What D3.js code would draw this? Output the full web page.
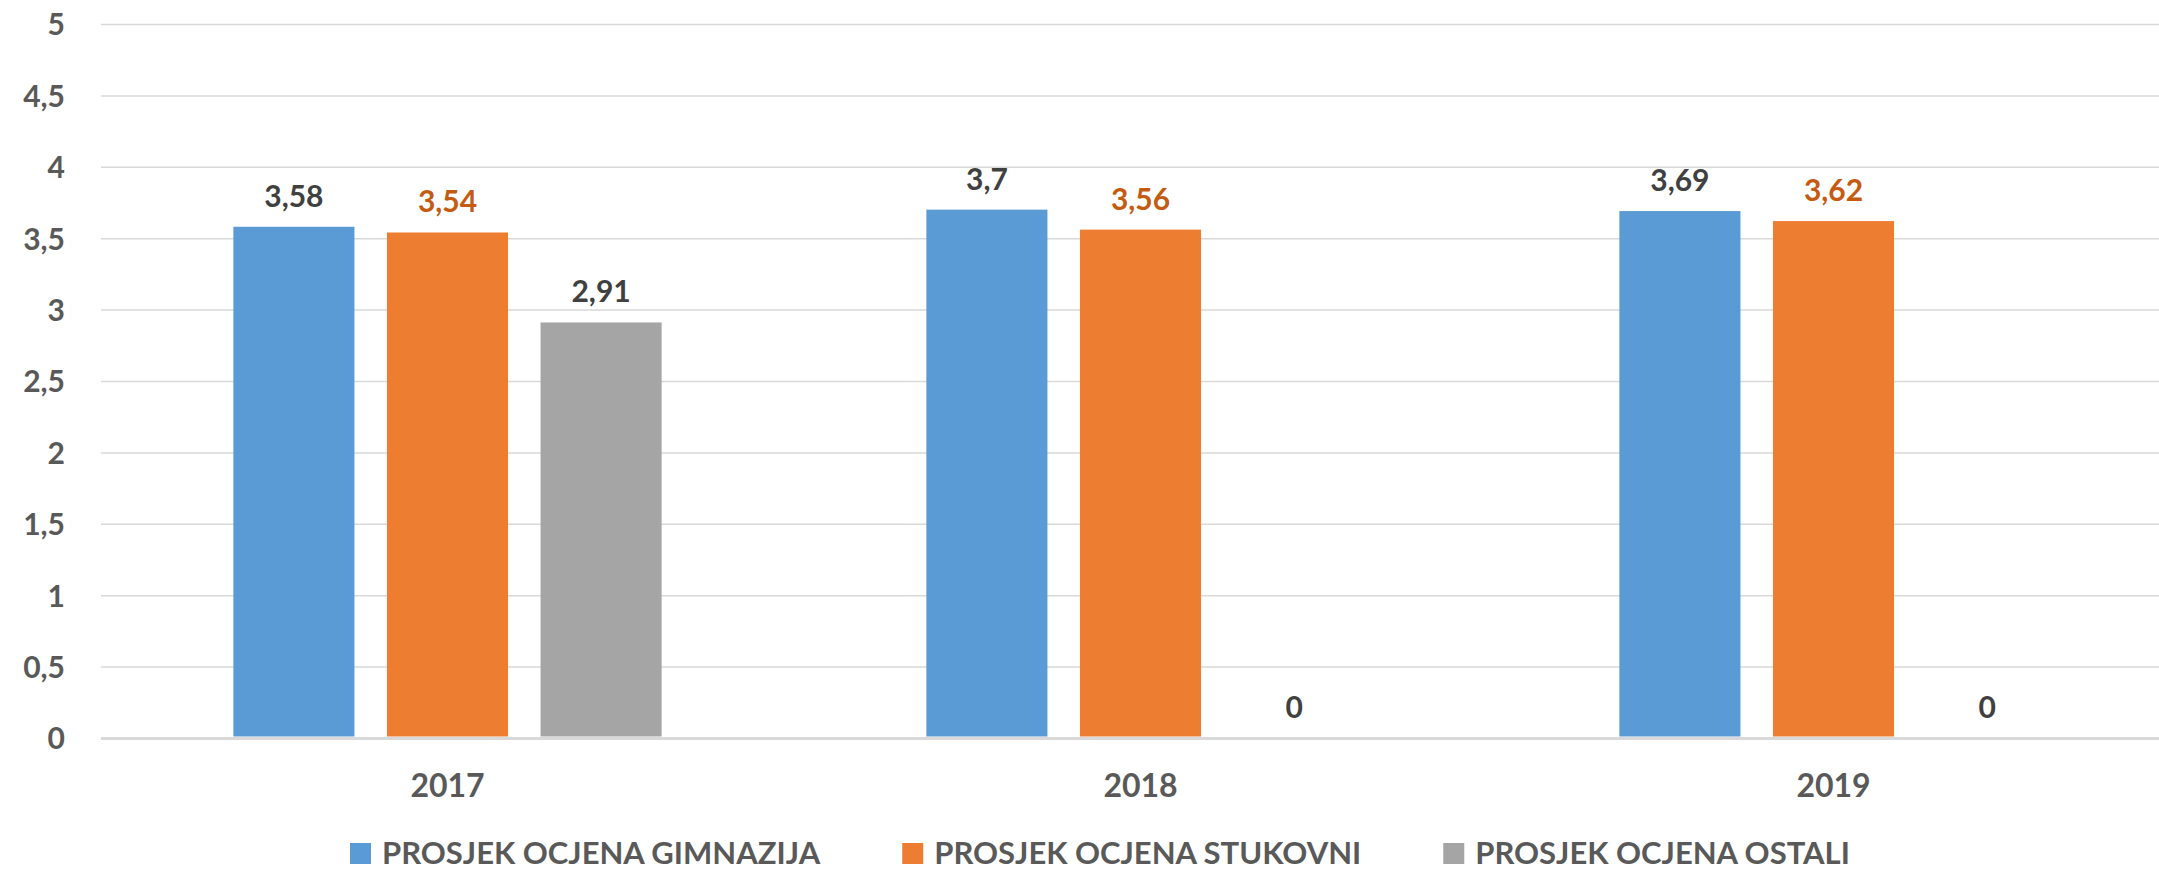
<!DOCTYPE html>
<html>
<head>
<meta charset="utf-8">
<script src="https://cdn.jsdelivr.net/npm/d3@7"></script>
<style>
  html, body { margin: 0; padding: 0; background: #fff; overflow: hidden; }
  svg { display: block; }
  text { font-family: Lato, "Open Sans", sans-serif; font-weight: bold; }
</style>
</head>
<body>
<svg id="chart" width="2159" height="871"></svg>
<script>
const categories = ["2017", "2018", "2019"];
const seriesNames = ["PROSJEK OCJENA GIMNAZIJA", "PROSJEK OCJENA STUKOVNI", "PROSJEK OCJENA OSTALI"];
const gimnazija = [3.58, 3.70, 3.69];
const strukovni = [3.54, 3.56, 3.62];
const ostali = [2.91, 0, 0];
const yTicks = [0, 0.5, 1, 1.5, 2, 2.5, 3, 3.5, 4, 4.5, 5];
const seriesColors = ["#5B9BD5", "#ED7D31", "#A5A5A5"];
const labelColors = ["#404040", "#C55A11", "#404040"];

const seriesValues = [gimnazija, strukovni, ostali];
const fmt = v => String(v).replace(".", ",");

const svg = d3.select("#chart");
const pLeft = 101, pRight = 2180, pTop = 24, pBottom = 738;

const x0 = d3.scaleBand().domain(categories).range([pLeft, pRight])
  .paddingInner(0.382).paddingOuter(0.191);
const x1 = d3.scaleBand().domain(d3.range(seriesNames.length)).range([0, x0.bandwidth()])
  .paddingInner(0.2117).paddingOuter(0);
const y = d3.scaleLinear().domain([0, 5]).range([pBottom, pTop]);

// gridlines + y labels
const yAxis = d3.axisLeft(y).tickValues(yTicks).tickSize(-(2159 - pLeft)).tickFormat(fmt).tickPadding(36);
const gy = svg.append("g").attr("transform", `translate(${pLeft},0)`).call(yAxis);
gy.select(".domain").remove();
gy.selectAll(".tick line").attr("stroke", "#d9d9d9").attr("stroke-width", d => d === 0 ? 3 : 1.5);
gy.selectAll(".tick text").attr("fill", "#595959").style("font-size", "30px").attr("dy", "0.36em");

// bars
const groups = svg.append("g").selectAll("g").data(categories).join("g")
  .attr("transform", d => `translate(${x0(d)},0)`);
groups.selectAll("rect")
  .data((c, ci) => seriesValues.map((vals, si) => ({ si, v: vals[ci] })))
  .join("rect")
  .attr("x", d => x1(d.si))
  .attr("width", x1.bandwidth())
  .attr("y", d => y(d.v))
  .attr("height", d => Math.max(0, y(0) - y(d.v) - 1.5))
  .attr("fill", d => seriesColors[d.si]);
groups.selectAll("text.lbl")
  .data((c, ci) => seriesValues.map((vals, si) => ({ si, v: vals[ci] })))
  .join("text").attr("class", "lbl")
  .attr("x", d => x1(d.si) + x1.bandwidth() / 2)
  .attr("y", d => y(d.v) - 20)
  .attr("text-anchor", "middle")
  .attr("fill", d => labelColors[d.si])
  .style("font-size", "30px")
  .text(d => fmt(d.v));

// x axis labels
const xAxis = d3.axisBottom(x0).tickSize(0).tickPadding(0);
const gx = svg.append("g").attr("transform", `translate(0,${pBottom})`).call(xAxis);
gx.select(".domain").remove();
gx.selectAll(".tick text").attr("fill", "#595959").style("font-size", "32px").attr("dy", 0).attr("y", 59);

// legend
const legend = svg.append("g").attr("transform", "translate(350,864)");
let lx = 0;
seriesNames.forEach((name, i) => {
  legend.append("rect").attr("x", lx).attr("y", -21).attr("width", 21).attr("height", 21).attr("fill", seriesColors[i]);
  const t = legend.append("text").attr("x", lx + 32).attr("y", 0).attr("fill", "#595959")
    .style("font-size", "31px").text(name);
  lx += 32 + t.node().getComputedTextLength() + 82;
});
</script>
</body>
</html>
